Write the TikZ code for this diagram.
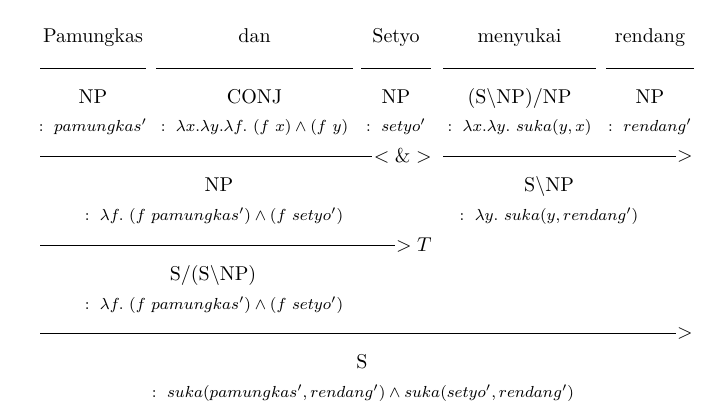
\documentclass[tikz,border=0pt]{standalone}
\usepackage{amsmath}
\usepackage{amssymb}
\usepackage{tikz}

\begin{document}
\begin{tikzpicture}[x = 0.5pt, y = -0.5pt,
		cat/.style = {anchor = base, inner sep = 0pt},
		sem/.style = {anchor = base, inner sep = 0pt, font = \footnotesize},
		rulelabel/.style = {anchor = east, inner sep = 0.5pt}]
		\useasboundingbox (0, 0) rectangle (722, 418);
		\foreach \i/\l/\r/\w/\c/\s in {1/40/146/Pamungkas/NP/{pamungkas'},
				2/156/353/dan/CONJ/{\lambda x.\lambda y.\lambda f.\ (f\ x) \wedge (f\ y)},
				3/361/431/Setyo/NP/{setyo'},
				4/443/596/menyukai/{(S$\backslash$NP)/NP}/{\lambda x.\lambda y.\ suka(y, x)},
				5/606/694/rendang/NP/{rendang'}}
		{
			\node[cat] (word\i) at ({(\l + \r) / 2}, 42) {\w};
			\draw (\l, 68) coordinate (ul\i) -- (\r, 68) coordinate (ur\i);
			\node[cat] (cat\i) at ({(\l + \r) / 2}, 103) {\c};
			\node[sem] (sem\i) at ({(\l + \r) / 2}, 131) {$:\ \s$};
		}
		% first step
		\coordinate (conjstart) at (40, 156);
		\node[rulelabel] (conj) at (433, 156) {$<\&>$};
		\draw (conjstart) -- (conj);
		\coordinate (vpstart) at (443, 156);
		\node[rulelabel] (fwdvp) at (694, 156) {$>$};
		\draw (vpstart) -- (fwdvp);
		\node[cat] (np) at (219, 191) {NP};
		\node[sem] (npsem) at (214, 220) {$:\ \lambda f.\ (f\ pamungkas') \wedge (f\ setyo')$};
		\node[cat] (vp) at (549, 191) {S$\backslash$NP};
		\node[sem] (vpsem) at (549, 220) {$:\ \lambda y.\ suka(y, rendang')$};
		% type raising
		\coordinate (raisestart) at (40, 245);
		\node[rulelabel] (raise) at (433, 245) {$>T$};
		\draw (raisestart) -- (raise);
		\node[cat] (subj) at (213, 280) {S/(S$\backslash$NP)};
		\node[sem] (subjsem) at (214, 309) {$:\ \lambda f.\ (f\ pamungkas') \wedge (f\ setyo')$};
		% last step
		\coordinate (sstart) at (40, 333);
		\node[rulelabel] (fwds) at (694, 333) {$>$};
		\draw (sstart) -- (fwds);
		\node[cat] (s) at (362, 368) {S};
		\node[sem] (ssem) at (363, 397) {$:\ suka(pamungkas', rendang') \wedge suka(setyo', rendang')$};
	\end{tikzpicture}
\end{document}
